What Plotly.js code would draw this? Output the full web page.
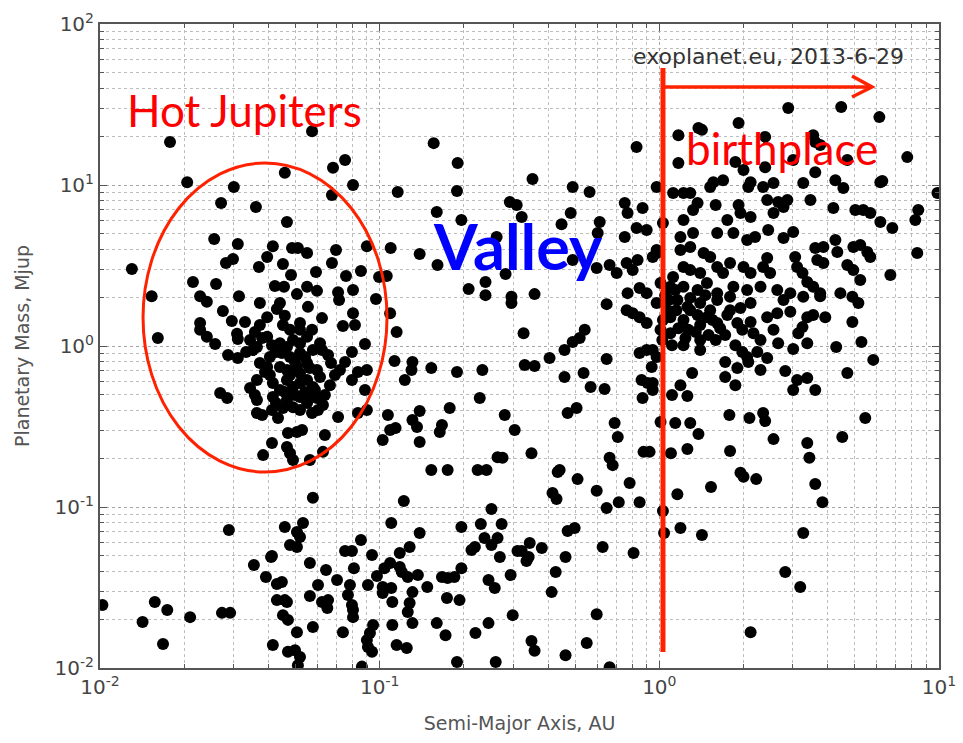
<!DOCTYPE html>
<html>
<head>
<meta charset="utf-8">
<script src="https://cdn.plot.ly/plotly-3.0.1.min.js"></script>
<style>
  html, body { margin: 0; padding: 0; background: #ffffff; }
  #chart { width: 963px; height: 743px; }
</style>
</head>
<body>
<div id="chart"></div>
<script>
// Exoplanets: semi-major axis (AU) vs planetary mass (Jupiter masses)
// Catalogue snapshot: exoplanet.eu, 2013-6-29

// Semi-major axis, AU
const semiMajorAxis = [
  // massive, distant or long-period planets (top strip)
  0.0178,0.0573,0.156,2.89,4.47,6.12,1.92,1.17,1.42,2.39,
  3.55,0.829,7.70,1.17,1.87,2.39,3.01,2.00,4.70,0.49,
  0.563,0.978,1.56,1.69,2.12,2.56,3.27,4.26,4.55,6.17,
  9.87,1.12,1.22,1.29,
  // hot Jupiters
  0.0752,0.0681,0.0458,0.0205,0.0301,0.0803,0.0675,0.116,0.0271,0.0361,
  0.0466,0.0256,0.0311,0.0415,0.0486,0.051,0.055,0.0698,0.090,0.1095,
  0.0396,0.0282,0.0299,0.0451,0.037,0.0675,0.013,0.0592,0.0482,0.0758,
  0.0857,0.0995,0.106,0.0215,0.026,0.0422,0.0455,0.055,0.0597,0.0506,
  0.0314,0.0228,0.0241,0.0153,0.071,0.0716,0.0803,0.097,0.0373,0.044,
  0.0554,0.0275,0.0429,0.109,0.0803,0.0296,0.0396,0.0451,0.0519,0.0622,
  0.0739,0.0816,0.0228,0.0228,0.0241,0.0161,0.0309,0.0311,0.0258,0.0358,
  0.0396,0.115,0.0364,0.0352,0.044,0.0466,0.049,0.0519,0.055,0.0622,
  0.0287,0.0311,0.0405,0.0447,0.0519,0.0577,0.067,0.0752,0.0796,0.0886,
  0.113,0.0373,0.0396,0.044,0.0466,0.0506,0.055,0.0597,0.0612,0.0364,
  0.0415,0.044,0.0466,0.049,0.0519,0.055,0.0577,0.0796,0.0836,0.090,
  0.0886,0.0344,0.0269,0.0285,0.0364,0.0415,0.0466,0.0519,0.055,0.049,
  0.0597,0.0627,0.0364,0.038,0.0412,0.0433,0.0573,0.071,0.0836,0.090,
  0.107,0.109,0.114,0.047,0.0506,0.0528,0.0637,0.1025,0.0412,0.0466,
  0.0478,0.049,0.0383,0.0563,0.0627,
  // core of the hot-Jupiter pile-up
  0.038,0.0412,0.0426,0.0478,0.0498,0.0541,0.0563,0.0478,0.0519,0.0405,
  0.0389,0.0458,0.0498,0.0541,0.0587,0.0563,0.0426,0.0451,0.0519,0.0602,
  0.0637,0.0664,0.0692,0.0358,0.0333,0.0344,0.0612,0.0654,0.0721,0.0519,
  0.0478,0.0573,0.0458,0.0373,0.033,
  // low-mass planets, short periods
  0.0102,0.0157,0.0174,0.0142,0.021,0.0168,0.0273,0.0292,0.0412,0.0355,
  0.0392,0.0429,0.0447,0.0429,0.0458,0.0451,0.047,0.0506,0.0415,0.047,
  0.0498,0.051,0.0577,0.122,0.251,0.153,0.175,0.224,0.241,0.0289,
  0.0458,0.0532,0.0506,0.0519,0.0478,0.0506,0.110,0.139,0.196,0.230,
  0.273,0.237,0.251,0.264,0.213,0.219,0.269,0.311,0.0857,0.0752,
  0.0796,0.0939,0.128,0.118,0.0409,
  0.0563,0.0643,0.0809,0.109,0.104,0.118,0.120,0.126,0.137,
  0.0704,0.0602,0.0783,0.0908,0.0978,0.1025,0.110,0.1025,0.131,0.148,
  0.167,0.175,0.185,0.196,0.245,0.258,0.294,0.0466,0.0563,0.0622,
  0.0654,0.065,0.077,0.0796,0.0803,0.0803,0.111,0.128,0.126,0.174,0.193,
  0.0577,0.0739,0.0947,0.0923,0.090,0.0908,0.0939,0.111,0.131,0.160,
  0.172,0.220,0.245,0.299,
  0.0519,0.115,0.125,0.189,0.260,0.0864,
  // low-mass planets, longer periods
  0.433,0.510,0.415,0.429,0.597,0.783,0.648,0.716,0.850,
  0.470,0.498,0.344,0.380,0.322,0.341,0.335,
  0.462,0.627,0.809,
  0.426,0.412,
  0.597,0.349,0.358,0.550,0.462,0.664,
  1.03,1.04,1.16,1.19,1.42,1.53,1.95,2.00,2.22,3.61,3.83,3.27,2.82,3.19,2.12,
  // giants beyond 1 AU, around a Jupiter mass
  3.76,4.90,5.15,3.92,4.90,5.28,5.82,4.29,4.70,5.45,
  4.51,3.38,3.44,2.78,3.27,2.94,3.38,3.55,3.25,3.14,
  3.38,3.01,2.66,2.82,3.11,3.38,3.01,3.61,2.43,2.30,
  2.24,2.56,2.43,2.64,2.12,1.90,2.12,2.17,2.30,1.98,
  2.06,2.08,1.90,1.72,1.72,1.87,1.65,1.50,1.35,1.40,
  1.22,1.31,1.19,1.11,1.26,1.14,1.29,1.38,1.10,1.26,
  1.78,2.10,2.35,2.39,2.56,1.79,
  1.01,0.923,0.947,0.939,0.978,0.947,1.01,0.978,1.16,1.26,
  1.40,1.52,1.61,1.79,1.095,1.22,1.37,1.48,1.61,1.17,
  1.095,1.75,1.95,1.07,1.03,
  // crowd just outside 1 AU
  1.05,1.14,1.29,1.46,1.55,1.29,1.15,1.40,1.27,1.025,
  1.11,1.24,1.40,1.59,1.72,1.87,1.98,1.79,1.01,1.08,
  // giants beyond 1 AU, several Jupiter masses
  1.38,3.61,3.76,3.61,6.27,1.52,2.08,2.35,
  3.47,4.19,5.02,5.36,5.68,8.43,8.23,6.17,6.81,8.36,
  6.70,1.59,1.92,1.95,2.43,2.66,2.87,2.56,2.78,1.37,
  1.32,1.22,1.03,1.75,2.12,1.61,1.84,2.06,2.20,2.45,
  2.78,3.01,1.19,1.32,1.19,1.29,0.978,1.44,1.52,3.06,
  3.61,3.86,3.67,3.86,4.26,4.33,4.94,5.23,5.54,5.68,
  4.70,4.94,5.23,1.22,1.29,1.40,1.12,1.61,1.79,1.69,
  2.00,2.12,2.35,2.49,2.43,3.11,3.25,3.38,3.55,1.095,
  1.22,1.37,1.48,1.61,1.84,2.06,2.30,2.64,2.94,3.76,
  4.44,0.947,
  // intermediate orbits (0.1 - 1 AU)
  0.190,0.352,0.189,0.292,0.309,0.322,0.160,0.196,0.482,0.447,
  0.612,0.752,0.770,0.871,0.602,0.752,0.829,0.901,0.978,0.139,
  0.262,0.161,0.490,0.597,0.664,0.704,0.764,0.803,0.836,0.239,
  0.282,0.208,0.239,0.296,0.296,0.358,0.648,0.770,0.850,0.901,
  0.764,0.803,0.850,0.901,0.327,0.541,0.519,0.490,0.458,0.405,
  0.648,0.850,0.901,0.131,0.130,0.153,0.189,0.233,0.330,0.358,
  0.458,0.536,0.568,0.637,0.123,0.228,0.864,0.908,0.947,0.871,
  0.139,0.178,0.131,0.136,0.167,0.164,0.280,0.304,0.470,0.506,
  0.692,0.710,0.664,0.681,0.878,0.139,0.349,0.264,0.275,0.440
];

// Planetary mass, Mjup (same order as semiMajorAxis)
const planetMass = [
  18.5,21.6,18.2,30.1,30.5,26.4,24.3,20.4,22.0,19.9,
  20.4,17.2,14.9,13.7,13.9,12.9,14.3,12.4,14.3,9.72,
  9.05,9.72,10.4,10.7,10.4,10.3,10.3,10.7,9.58,10.4,
  8.92,8.92,8.92,8.92,
  14.3,12.8,11.9,10.4,9.72,10.0,8.67,9.05,7.73,7.30,
  5.89,4.62,4.30,4.17,4.06,4.06,3.78,3.95,4.17,4.06,
  3.57,3.28,3.47,3.23,3.10,3.28,3.01,2.88,2.76,2.72,
  2.92,2.68,2.72,2.50,2.43,2.36,2.33,2.33,2.20,2.10,
  2.04,2.04,1.88,2.04,2.16,1.93,2.23,1.96,1.85,1.85,
  1.75,1.65,1.70,1.60,1.60,1.43,1.51,1.35,1.39,1.49,
  1.33,1.35,1.39,1.26,1.14,1.12,1.19,1.105,1.03,1.22,
  1.14,1.22,0.986,0.944,1.04,0.986,1.09,1.04,1.14,0.944,
  0.879,0.842,0.854,0.905,0.905,0.944,0.784,0.796,0.919,1.03,
  0.808,0.784,0.740,0.740,0.710,0.740,0.784,0.710,0.641,0.615,
  0.589,0.533,0.615,0.556,0.589,0.615,0.556,0.615,0.690,0.710,
  0.533,0.548,0.511,0.475,0.462,0.482,0.462,0.482,0.443,0.417,
  0.475,0.430,0.384,0.373,0.400,0.357,0.384,0.362,0.384,0.400,
  0.373,0.301,0.310,0.288,0.292,0.301,0.280,0.261,0.250,0.236,
  0.216,0.196,0.210,0.196,0.220,
  1.12,1.01,0.919,0.854,0.796,0.854,0.730,0.660,0.680,0.660,
  0.690,0.518,0.496,0.518,0.533,0.489,0.443,0.412,0.400,0.400,
  0.496,0.571,0.660,0.496,0.919,1.09,1.04,0.879,0.710,1.26,
  1.26,1.26,1.54,1.35,1.41,
  0.0246,0.0257,0.0229,0.0193,0.0207,0.0141,0.0220,0.0220,0.0496,0.0436,
  0.0367,0.0332,0.0342,0.0264,0.0264,0.0213,0.0199,0.0167,0.0139,0.0126,
  0.0129,0.0104,0.114,0.109,0.0972,0.170,0.170,0.170,0.170,0.072,
  0.0751,0.0796,0.070,0.0651,0.0581,0.0564,0.0796,0.069,0.0751,0.0784,
  0.0784,0.0641,0.0581,0.0641,0.0541,0.0564,0.0489,0.0533,0.0624,0.0533,
  0.0533,0.0503,0.0564,0.0518,0.0489,
  0.0449,0.0406,0.0417,0.0449,0.0417,0.0424,0.0395,0.0367,0.0378,
  0.0352,0.0328,0.0328,0.0328,0.0373,0.0319,0.0314,0.0292,0.0296,0.0319,
  0.0367,0.0362,0.0367,0.0417,0.0352,0.0314,0.0378,0.0257,0.028,0.0257,
  0.0264,0.0236,0.0284,0.0246,0.0229,0.0207,0.0257,0.0253,0.0223,0.0272,0.0264,
  0.018,0.0167,0.0185,0.0165,0.0149,0.0135,0.0126,0.0185,0.019,0.019,
  0.016,0.0165,0.019,0.0213,
  0.0117,0.0139,0.0133,0.0109,0.0109,0.0102,
  0.165,0.149,0.122,0.112,0.126,0.141,0.0986,0.107,0.107,
  0.071,0.074,0.0598,0.0556,0.0533,0.0489,0.0462,
  0.0489,0.0564,0.0518,
  0.0395,0.0296,
  0.0216,0.0147,0.0128,0.0143,0.0120,0.0101,
  0.0944,0.069,0.120,0.074,0.067,0.133,0.163,0.154,0.149,0.139,0.107,0.069,0.0395,0.0319,0.0167,
  2.04,2.02,1.85,1.51,1.41,1.06,0.82,0.986,0.680,0.357,
  0.272,0.250,0.202,1.93,2.02,1.63,1.51,1.56,1.31,1.20,
  1.04,0.958,1.04,0.700,0.615,0.632,0.533,0.533,0.842,0.710,
  0.919,1.26,1.51,1.60,1.85,1.39,1.41,1.20,1.09,0.919,
  0.854,0.796,0.730,0.796,0.641,0.571,1.29,1.17,1.22,0.944,
  1.01,0.680,0.571,0.496,0.489,0.332,0.332,0.284,0.216,0.229,
  0.373,0.357,0.384,0.342,0.264,0.223,
  0.337,0.220,0.589,0.740,0.854,0.944,1.26,1.85,1.93,1.75,
  1.85,1.67,1.93,2.02,1.51,1.45,1.56,1.51,1.39,1.29,
  1.20,1.56,1.72,1.67,1.45,
  2.07,2.23,1.99,2.07,1.45,1.67,1.67,1.35,1.26,1.09,
  1.01,1.12,1.09,1.09,1.17,1.01,1.26,1.67,2.46,1.93,
  22.6,18.5,17.7,12.0,10.6,9.72,9.72,9.72,
  8.08,7.20,7.00,7.00,6.70,7.00,6.06,5.89,5.41,3.78,
  2.76,7.51,7.51,6.70,8.08,7.84,8.08,6.70,7.30,7.73,
  7.00,6.06,5.81,6.06,6.32,5.03,5.03,4.55,4.75,5.25,
  4.69,5.11,4.75,5.03,3.95,4.12,3.78,3.78,3.57,3.57,
  4.06,4.12,3.42,3.28,4.55,3.84,4.12,4.24,3.84,3.57,
  3.19,2.96,2.57,3.10,2.96,2.84,2.68,3.10,3.28,2.84,
  3.10,2.84,3.10,2.84,3.52,3.10,2.84,2.50,2.33,2.33,
  2.33,2.23,2.46,2.13,2.33,2.23,2.33,2.23,2.13,2.13,
  2.13,3.57,
  13.7,10.9,9.19,7.84,7.51,6.32,6.80,6.06,6.70,5.71,
  5.89,7.73,6.70,7.20,5.03,4.75,5.41,5.25,3.95,3.73,
  4.75,3.19,3.42,3.05,3.19,2.84,3.28,2.96,3.42,2.50,
  2.80,2.26,2.07,2.02,1.85,2.10,1.82,2.13,2.29,2.13,
  1.67,1.60,1.51,1.39,1.20,1.26,1.12,1.06,0.944,0.842,
  0.83,0.905,0.944,0.796,0.710,0.730,0.690,0.710,0.762,0.751,
  0.641,0.680,0.556,0.541,0.615,0.475,0.615,0.589,0.533,0.475,
  0.395,0.412,0.347,0.314,0.323,0.292,0.373,0.301,0.384,0.412,
  0.332,0.272,0.202,0.182,0.220,0.253,0.216,0.204,0.202,0.170
];

// Decade ticks and their labels
const axisTicksX = [0.01, 0.1, 1, 10];
const axisLabelsX = ['10<sup>-2</sup>', '10<sup>-1</sup>', '10<sup>0</sup>', '10<sup>1</sup>'];
const axisTicksY = [0.01, 0.1, 1, 10, 100];
const axisLabelsY = ['10<sup>-2</sup>', '10<sup>-1</sup>', '10<sup>0</sup>', '10<sup>1</sup>', '10<sup>2</sup>'];

const tickFont = { family: 'DejaVu Sans, sans-serif', size: 20, color: '#444444' };
const titleFont = { family: 'DejaVu Sans, sans-serif', size: 19, color: '#555555' };
const frameColor = '#555555';
const red = '#ff2200';

function logAxis(ticks, labels, range, title, standoff) {
  return {
    type: 'log',
    range: range,
    tickmode: 'array',
    tickvals: ticks,
    ticktext: labels,
    tickfont: tickFont,
    ticks: 'inside',
    ticklen: 7,
    tickwidth: 1,
    tickcolor: frameColor,
    showline: true,
    linecolor: frameColor,
    linewidth: 2,
    mirror: 'allticks',
    showgrid: true,
    gridcolor: '#a6a6a6',
    gridwidth: 1,
    griddash: 'dot',
    zeroline: false,
    minor: {
      dtick: 'D1',
      ticks: 'inside',
      ticklen: 4,
      tickcolor: frameColor,
      showgrid: true,
      gridcolor: '#bdbdbd',
      gridwidth: 1,
      griddash: 'dot'
    },
    title: { text: title, font: titleFont, standoff: standoff },
    automargin: false
  };
}

const planets = {
  type: 'scatter',
  mode: 'markers',
  x: semiMajorAxis,
  y: planetMass,
  marker: { color: '#000000', size: 12, line: { width: 0 } },
  hoverinfo: 'x+y',
  showlegend: false
};

const layout = {
  width: 963,
  height: 743,
  margin: { l: 100, r: 24, t: 24, b: 75 },
  paper_bgcolor: '#ffffff',
  plot_bgcolor: '#ffffff',
  xaxis: logAxis(axisTicksX, axisLabelsX, [-2, 1], 'Semi-Major Axis, AU', 19),
  yaxis: logAxis(axisTicksY, axisLabelsY, [-2, 2], 'Planetary Mass, Mjup', 20),
  shapes: [
    // hot-Jupiter ring
    { type: 'circle', xref: 'paper', yref: 'paper',
      x0: 0.0513, x1: 0.3421, y0: 0.3043, y1: 0.7842,
      line: { color: red, width: 3 } },
    // 1 AU marker
    { type: 'line', xref: 'paper', yref: 'paper',
      x0: 0.6710, x1: 0.6710, y0: 0.0248, y1: 0.9317,
      line: { color: red, width: 5 } },
    // arrow shaft
    { type: 'line', xref: 'paper', yref: 'paper',
      x0: 0.6710, x1: 0.9195, y0: 0.9022, y1: 0.9022,
      line: { color: red, width: 3.5 } },
    // arrow head
    { type: 'path', xref: 'paper', yref: 'paper',
      path: 'M 0.8963 0.9193 L 0.9201 0.9022 L 0.8963 0.8866',
      line: { color: red, width: 3.5 } }
  ],
  annotations: [
    { text: 'exoplanet.eu, 2013-6-29', xref: 'paper', yref: 'paper',
      x: 0.7962, y: 0.9488, xanchor: 'center', yanchor: 'middle', showarrow: false,
      font: { family: 'DejaVu Sans, sans-serif', size: 22, color: '#333333' } },
    { text: 'Hot Jupiters', xref: 'paper', yref: 'paper',
      x: 0.0298, y: 0.8665, xanchor: 'left', yanchor: 'middle', showarrow: false,
      font: { family: 'Lato, sans-serif', size: 44, color: '#ff0000' } },
    { text: 'birthplace', xref: 'paper', yref: 'paper',
      x: 0.696, y: 0.8067, xanchor: 'left', yanchor: 'middle', showarrow: false,
      font: { family: 'Lato, sans-serif', size: 44, color: '#ff0000' } },
    { text: '<b>Valley</b>', xref: 'paper', yref: 'paper',
      x: 0.3945, y: 0.6568, xanchor: 'left', yanchor: 'middle', showarrow: false,
      font: { family: 'Lato, sans-serif', size: 63, color: '#0000ff' } }
  ]
};

Plotly.newPlot('chart', [planets], layout, { displayModeBar: false, staticPlot: true });
</script>
</body>
</html>
